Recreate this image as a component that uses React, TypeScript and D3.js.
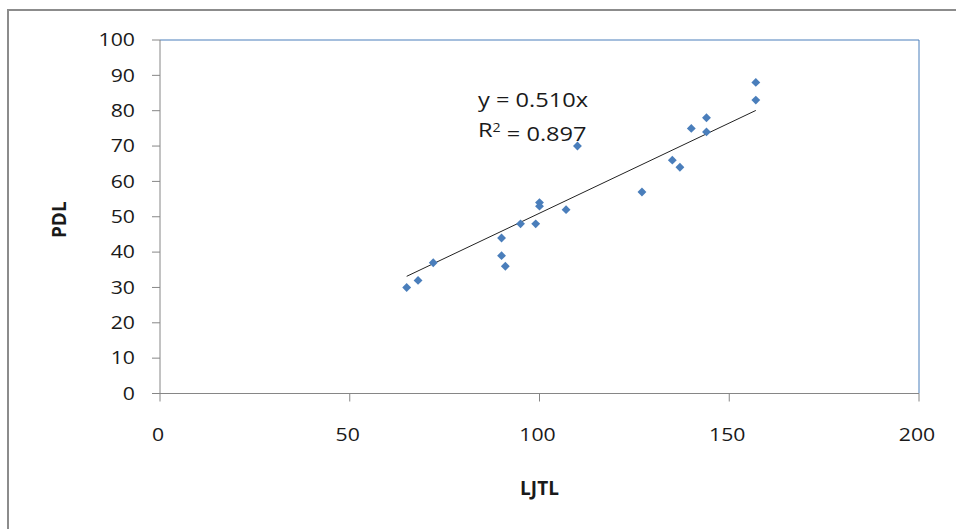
import React from "react";
import * as d3 from "d3";

// LJTL (x) and PDL (y) observations
const ljtl = [65, 68, 72, 90, 90, 91, 95, 99, 100, 100, 107, 110, 127, 135, 137, 140, 144, 144, 157, 157];
const pdl = [30, 32, 37, 44, 39, 36, 48, 48, 54, 53, 52, 70, 57, 66, 64, 75, 78, 74, 88, 83];

const xTicks = [0, 50, 100, 150, 200];
const yTicks = [0, 10, 20, 30, 40, 50, 60, 70, 80, 90, 100];

const slope = 0.51;
const eqLabel = "y = 0.510x";
const r2Label = "0.897";

const W = 956;
const H = 529;
const plot = { left: 160, top: 40, right: 919, bottom: 393.5 };
const FONT = "'Open Sans', Lato, sans-serif";
const STRETCH = 1.18;

type LabelProps = {
  x: number;
  y: number;
  anchor: "start" | "middle" | "end";
  size: number;
  children: React.ReactNode;
};

// Text with the wide, slightly stretched look of the chart's labels
function Label({ x, y, anchor, size, children }: LabelProps) {
  return (
    <text
      transform={`translate(${x},${y}) scale(${STRETCH},1)`}
      dy="0.35em"
      textAnchor={anchor}
      fontSize={size}
      fill="#1a1a1a"
    >
      {children}
    </text>
  );
}

export default function App() {
  const x = d3.scaleLinear().domain([0, 200]).range([plot.left, plot.right]);
  const y = d3.scaleLinear().domain([0, 100]).range([plot.bottom, plot.top]);
  const xMin = d3.min(ljtl) as number;
  const xMax = d3.max(ljtl) as number;
  const diamond = d3.symbol().type(d3.symbolDiamond2).size(50)() as string;
  const axisColor = "#868686";
  const blue = "#4a7ebb";
  const midX = (plot.left + plot.right) / 2;
  const midY = (plot.top + plot.bottom) / 2;

  return (
    <svg
      width={W}
      height={H}
      style={{ position: "absolute", left: 0, top: 0, background: "#fff" }}
      fontFamily={FONT}
    >
      {/* chart frame */}
      <rect x={8} y={10} width={W} height={H} fill="#fff" stroke="#8c8c8c" strokeWidth={2} />

      {/* plot area edges */}
      <line x1={plot.left} x2={plot.right} y1={plot.top} y2={plot.top} stroke={blue} strokeWidth={1} />
      <line x1={plot.right} x2={plot.right} y1={plot.top} y2={plot.bottom} stroke={blue} strokeWidth={1} />

      {/* y axis */}
      <line x1={plot.left} x2={plot.left} y1={plot.top} y2={plot.bottom} stroke={axisColor} strokeWidth={1} />
      {yTicks.map((t) => (
        <g key={"y" + t}>
          <line x1={plot.left - 8} x2={plot.left} y1={y(t)} y2={y(t)} stroke={axisColor} />
          <Label x={135} y={y(t)} anchor="end" size={18}>
            {t}
          </Label>
        </g>
      ))}

      {/* x axis */}
      <line x1={plot.left} x2={plot.right} y1={plot.bottom} y2={plot.bottom} stroke={axisColor} strokeWidth={1} />
      {xTicks.map((t) => (
        <g key={"x" + t}>
          <line x1={x(t)} x2={x(t)} y1={plot.bottom} y2={plot.bottom + 8} stroke={axisColor} />
          <Label x={x(t) - 2} y={435} anchor="middle" size={18}>
            {t}
          </Label>
        </g>
      ))}

      {/* axis titles */}
      <text x={midX} y={488} dy="0.35em" textAnchor="middle" fontSize={19} fontWeight="bold" fill="#1a1a1a">
        LJTL
      </text>
      <text
        transform={`translate(59,${midY + 3}) rotate(-90)`}
        dy="0.35em"
        textAnchor="middle"
        fontSize={19}
        fontWeight="bold"
        fill="#1a1a1a"
      >
        PDL
      </text>

      {/* linear trend through origin */}
      <line
        x1={x(xMin)}
        y1={y(slope * xMin)}
        x2={x(xMax)}
        y2={y(slope * xMax)}
        stroke="#222"
        strokeWidth={1}
      />

      {/* data points */}
      {ljtl.map((v, i) => (
        <path key={i} d={diamond} transform={`translate(${x(v)},${y(pdl[i])})`} fill={blue} />
      ))}

      {/* trend equation */}
      <Label x={478} y={100} anchor="start" size={20}>
        {eqLabel}
      </Label>
      <Label x={478} y={130} anchor="start" size={20}>
        R<tspan dy="-0.45em" fontSize={12}>2</tspan>
        <tspan dy="0.45em"> = {r2Label}</tspan>
      </Label>
    </svg>
  );
}
